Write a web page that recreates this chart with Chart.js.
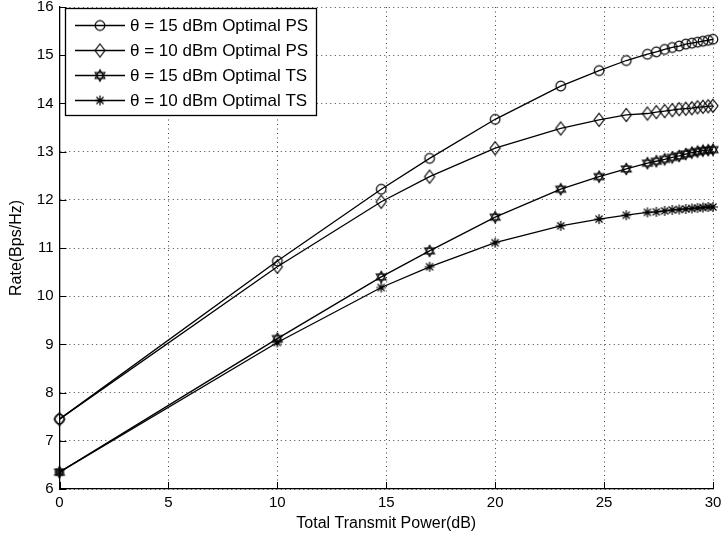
<!DOCTYPE html>
<html><head><meta charset="utf-8">
<script src="https://cdn.jsdelivr.net/npm/chart.js@4/dist/chart.umd.min.js"></script>
<style>html,body{margin:0;padding:0;background:#fff}</style>
</head><body>
<canvas id="c" width="724" height="540"></canvas>
<script>
// ---- data ----
const powerDb = [0, 10, 14.77, 16.99, 20, 23.01, 24.77, 26.02, 26.99, 27.40, 27.78, 28.13, 28.45, 28.75, 29.03, 29.29, 29.54, 29.78, 30];
const ps15 = [7.45, 10.73, 12.22, 12.86, 13.67, 14.36, 14.68, 14.89, 15.02, 15.07, 15.12, 15.16, 15.19, 15.23, 15.25, 15.27, 15.29, 15.31, 15.33];
const ps10 = [7.45, 10.61, 11.96, 12.48, 13.07, 13.48, 13.66, 13.76, 13.79, 13.82, 13.84, 13.86, 13.88, 13.89, 13.90, 13.92, 13.93, 13.94, 13.95];
const ts15 = [6.35, 9.12, 10.40, 10.94, 11.64, 12.22, 12.48, 12.64, 12.76, 12.80, 12.84, 12.88, 12.91, 12.95, 12.98, 13.00, 13.02, 13.03, 13.04];
const ts10 = [6.35, 9.04, 10.18, 10.61, 11.11, 11.46, 11.60, 11.68, 11.74, 11.75, 11.77, 11.79, 11.80, 11.81, 11.82, 11.83, 11.84, 11.85, 11.85];
const seriesLabels = ['θ = 15 dBm Optimal PS', 'θ = 10 dBm Optimal PS', 'θ = 15 dBm Optimal TS', 'θ = 10 dBm Optimal TS'];
const xTickValues = [0, 5, 10, 15, 20, 25, 30];
const yTickValues = [6, 7, 8, 9, 10, 11, 12, 13, 14, 15, 16];
const xTitle = 'Total Transmit Power(dB)';
const yTitle = 'Rate(Bps/Hz)';

// ---- marker images (MATLAB-like unfilled markers) ----
function marker(kind) {
  const s = 18, c = document.createElement('canvas');
  c.width = s; c.height = s;
  const g = c.getContext('2d');
  g.translate(s / 2, s / 2);
  g.strokeStyle = '#000';
  g.lineWidth = 1.2;
  g.beginPath();
  if (kind === 'circle') {
    g.arc(0, 0, 4.8, 0, Math.PI * 2);
  } else if (kind === 'diamond') {
    g.moveTo(0, -6.5); g.lineTo(5, 0); g.lineTo(0, 6.5); g.lineTo(-5, 0); g.closePath();
  } else if (kind === 'hexagram') {
    const r = 5.6;
    for (const off of [-90, 90]) {
      for (let k = 0; k < 3; k++) {
        const a = (off + k * 120) * Math.PI / 180;
        const px = r * Math.cos(a), py = r * Math.sin(a);
        if (k === 0) g.moveTo(px, py); else g.lineTo(px, py);
      }
      g.closePath();
    }
  } else if (kind === 'asterisk') {
    const r = 5;
    for (let k = 0; k < 4; k++) {
      const a = k * Math.PI / 4;
      g.moveTo(-r * Math.cos(a), -r * Math.sin(a));
      g.lineTo(r * Math.cos(a), r * Math.sin(a));
    }
  }
  g.stroke();
  return c;
}
const markers = [marker('circle'), marker('diamond'), marker('hexagram'), marker('asterisk')];
const seriesValues = [ps15, ps10, ts15, ts10];

const datasets = seriesValues.map((vals, i) => ({
  label: seriesLabels[i],
  data: powerDb.map((x, j) => ({ x: x, y: vals[j] })),
  borderColor: '#000',
  borderWidth: 1.3,
  pointStyle: markers[i],
  pointRadius: 5,
  pointHoverRadius: 5,
  fill: false,
  tension: 0,
  clip: false
}));

// inward tick marks (MATLAB style)
const inwardTicks = {
  id: 'inwardTicks',
  afterDatasetsDraw(chart) {
    const { ctx, chartArea: a, scales: { x, y } } = chart;
    ctx.save();
    ctx.strokeStyle = '#000';
    ctx.lineWidth = 1;
    ctx.beginPath();
    for (const v of xTickValues) {
      const px = Math.round(x.getPixelForValue(v)) + 0.5;
      ctx.moveTo(px, a.bottom); ctx.lineTo(px, a.bottom - 7);
    }
    for (const v of yTickValues) {
      const py = Math.round(y.getPixelForValue(v)) + 0.5;
      ctx.moveTo(a.left, py); ctx.lineTo(a.left + 7, py);
    }
    ctx.stroke();
    ctx.restore();
  }
};

// boxed legend inside the axes
const boxLegend = {
  id: 'boxLegend',
  afterDraw(chart) {
    const { ctx } = chart;
    const bx = 65.5, by = 8.5, bw = 251, bh = 107;
    ctx.save();
    ctx.fillStyle = '#fff';
    ctx.fillRect(bx, by, bw, bh);
    ctx.strokeStyle = '#000';
    ctx.lineWidth = 1.3;
    ctx.strokeRect(bx, by, bw, bh);
    ctx.font = '17px "Liberation Sans", Arial, Helvetica, sans-serif';
    ctx.fillStyle = '#000';
    ctx.textBaseline = 'middle';
    ctx.textAlign = 'left';
    chart.data.datasets.forEach((ds, i) => {
      const cy = 25.5 + i * 25;
      ctx.beginPath();
      ctx.lineWidth = 1.3;
      ctx.moveTo(75, cy); ctx.lineTo(125, cy);
      ctx.stroke();
      const img = ds.pointStyle;
      ctx.drawImage(img, 100 - img.width / 2, cy - img.height / 2);
      ctx.fillText(ds.label, 130, cy + 1);
    });
    ctx.restore();
  }
};

const font = { family: '"Liberation Sans", Arial, Helvetica, sans-serif' };

new Chart(document.getElementById('c'), {
  type: 'line',
  data: { datasets: datasets },
  options: {
    responsive: false,
    devicePixelRatio: 1,
    animation: false,
    events: [],
    layout: { padding: { top: 7, right: 11, bottom: 0, left: 0 } },
    plugins: { legend: { display: false }, tooltip: { enabled: false } },
    scales: {
      x: {
        type: 'linear',
        min: 0, max: 30,
        afterBuildTicks(s) { s.ticks = xTickValues.map(v => ({ value: v })); },
        afterFit(s) { s.height = 51; s.paddingLeft = 0; s.paddingRight = 0; },
        ticks: { color: '#000', font: { ...font, size: 15 }, padding: 5, maxRotation: 0, autoSkip: false },
        grid: { color: 'rgba(0,0,0,0.75)', lineWidth: 1, drawTicks: false },
        border: { display: true, color: '#000', width: 1.3, dash: [1, 3.5] },
        title: { display: true, text: xTitle, color: '#000', font: { ...font, size: 16 }, padding: { top: 0, bottom: 7 } }
      },
      y: {
        type: 'linear',
        min: 6, max: 16,
        afterBuildTicks(s) { s.ticks = yTickValues.map(v => ({ value: v })); },
        afterFit(s) { s.width = 59.5; s.paddingTop = 0; s.paddingBottom = 0; },
        ticks: { color: '#000', font: { ...font, size: 15 }, padding: 6, autoSkip: false },
        grid: { color: 'rgba(0,0,0,0.75)', lineWidth: 1, drawTicks: false },
        border: { display: true, color: '#000', width: 1.3, dash: [1, 3.5] },
        title: { display: true, text: yTitle, color: '#000', font: { ...font, size: 16 }, padding: { top: 7, bottom: 0 } }
      }
    }
  },
  plugins: [inwardTicks, boxLegend]
});
</script>
</body></html>
